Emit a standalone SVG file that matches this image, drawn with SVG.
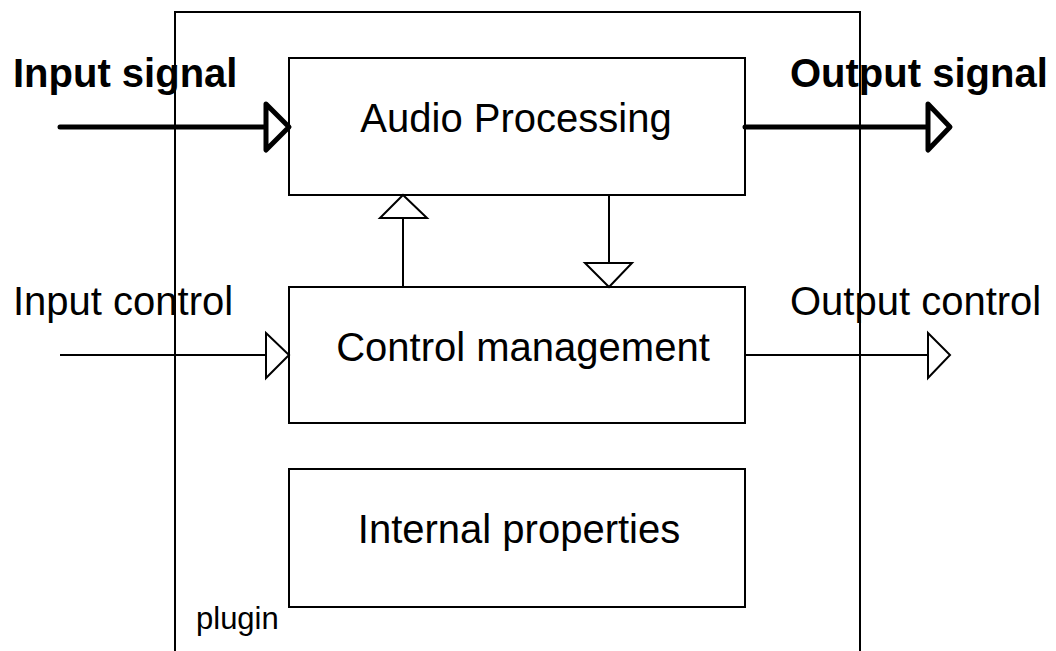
<svg xmlns="http://www.w3.org/2000/svg" width="1056" height="651" viewBox="0 0 1056 651">
<style>
.box{fill:none;stroke:#000;stroke-width:2}
.lbl{font-family:"Liberation Sans",Arial,sans-serif;font-size:40px;fill:#000}
.bold{font-weight:bold}
.thick{stroke:#000;stroke-width:5;fill:none;stroke-linecap:round}
.thickhead{stroke:#000;stroke-width:5;fill:#fff;stroke-linejoin:round}
.thin{stroke:#000;stroke-width:2;fill:none}
.thinhead{stroke:#000;stroke-width:2;fill:#fff}
</style>
<rect width="1056" height="651" fill="#fff"/>
<g id="plugin">
<rect class="box" x="175" y="12" width="685" height="700"/>
<text x="196" y="629" style="font-family:'Liberation Sans',Arial,sans-serif;font-size:31px">plugin</text>
</g>
<g id="audio-processing">
<rect class="box" x="289" y="58" width="456" height="137" fill="#fff"/>
<text class="lbl" x="516" y="132" text-anchor="middle">Audio Processing</text>
</g>
<g id="control-management">
<rect class="box" x="289" y="287" width="456" height="136"/>
<text class="lbl" x="523" y="361" text-anchor="middle">Control management</text>
</g>
<g id="internal-properties">
<rect class="box" x="289" y="469" width="456" height="138"/>
<text class="lbl" x="519" y="543" text-anchor="middle">Internal properties</text>
</g>
<g id="labels">
<text class="lbl bold" x="13" y="87">Input signal</text>
<text class="lbl bold" x="790" y="87">Output signal</text>
<text class="lbl" x="13" y="315">Input control</text>
<text class="lbl" x="790" y="315">Output control</text>
</g>
<g id="connectors">
<line class="thick" x1="60" y1="127" x2="266" y2="127"/>
<polygon class="thickhead" points="266,104 289,127 266,150"/>
<line class="thick" x1="745" y1="127" x2="928" y2="127"/>
<polygon class="thickhead" points="928,104 950,127 928,150"/>
<line class="thin" x1="60" y1="355" x2="266" y2="355"/>
<polygon class="thinhead" points="266,333 289,355 266,378"/>
<line class="thin" x1="745" y1="355" x2="928" y2="355"/>
<polygon class="thinhead" points="928,333 950,355 928,378"/>
<line class="thin" x1="403" y1="287" x2="403" y2="218"/>
<polygon class="thinhead" points="380,218 427,218 403,195"/>
<line class="thin" x1="609" y1="195" x2="609" y2="263"/>
<polygon class="thinhead" points="585,263 632,263 609,287"/>
</g>
</svg>
